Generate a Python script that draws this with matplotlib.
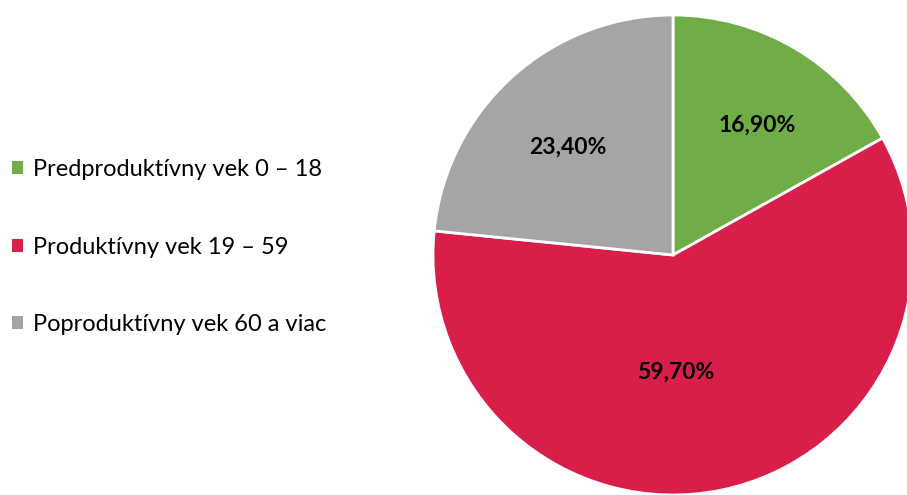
import matplotlib
matplotlib.use("Agg")
import matplotlib.pyplot as plt
import numpy as np

categories = ["Predproduktívny vek 0 – 18", "Produktívny vek 19 – 59", "Poproduktívny vek 60 a viac"]
values = [16.9, 59.7, 23.4]
labels = ["16,90%", "59,70%", "23,40%"]
colors = ["#70AD47", "#DA1E4A", "#A5A5A5"]
# label positions in pie-radius units
label_xy = [(0.35, 0.54), (0.01, -0.49), (-0.44, 0.45)]

W, H = 907, 495
fig = plt.figure(figsize=(W / 100, H / 100), dpi=100)
ax = fig.add_axes([0, 0, 1, 1])
R = 240.0
cx, cy = 673.0, H - 255.0

wedges, _ = ax.pie(values, colors=colors, startangle=90, counterclock=False,
                   radius=1.0, center=(0, 0),
                   wedgeprops=dict(edgecolor="white", linewidth=2))

for lab, (x, y) in zip(labels, label_xy):
    ax.text(x, y, lab, ha="center", va="center",
            fontsize=16.5, fontweight="bold", family="Lato", color="#000000")

ax.set_aspect("auto")
ax.set_xlim(-cx / R, (W - cx) / R)
ax.set_ylim(-cy / R, (H - cy) / R)
ax.axis("off")

leg = fig.legend(wedges, categories, loc="upper left", bbox_to_anchor=(12 / W, 1 - 159 / H),
                 frameon=False, handlelength=0.47, handleheight=0.47, handletextpad=0.42,
                 labelspacing=2.4, borderpad=0, borderaxespad=0,
                 prop=dict(family="Lato", size=17))
for h in leg.legend_handles:
    h.set_edgecolor("none")

fig.savefig("out.png", dpi=100)
